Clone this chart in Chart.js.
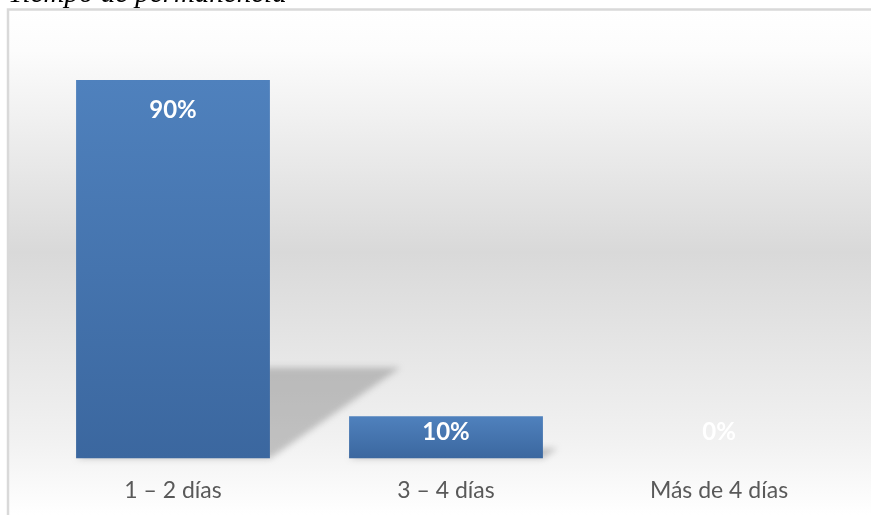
<!DOCTYPE html>
<html>
<head>
<meta charset="utf-8">
<script src="https://cdn.jsdelivr.net/npm/chart.js@4"></script>
<style>
  html, body { margin: 0; padding: 0; background: #fff; overflow: hidden; }
  #wrap { position: relative; width: 871px; height: 515px; }
  #title {
    position: absolute; left: 8px; top: -23px;
    font: italic 29px "Liberation Serif", "DejaVu Serif", serif;
    color: #000; white-space: nowrap; line-height: 30px;
  }
  canvas { position: absolute; left: 0; top: 0; }
</style>
</head>
<body>
<div id="wrap">
  <canvas id="myChart" width="871" height="515"></canvas>
  <div id="title">Tiempo de permanencia</div>
</div>
<script>
var categories = ['1 \u2013 2 días', '3 \u2013 4 días', 'Más de 4 días'];
var values = [90, 10, 0];
var valueLabels = ['90%', '10%', '0%'];

var ctx = document.getElementById('myChart');

// background gradient + frame
var backdrop = {
  id: 'backdrop',
  beforeDraw: function (chart) {
    var c = chart.ctx;
    var g = c.createLinearGradient(0, 10, 0, 515);
    g.addColorStop(0, '#ffffff');
    g.addColorStop(0.08, '#fcfcfc');
    g.addColorStop(0.48, '#d9d9d9');
    g.addColorStop(0.86, '#f2f2f2');
    g.addColorStop(1, '#ffffff');
    c.save();
    c.fillStyle = g;
    c.fillRect(8, 10, 863, 505);
    c.strokeStyle = '#d9d9d9';
    c.lineWidth = 2.5;
    c.beginPath();
    c.moveTo(8, 515);
    c.lineTo(8, 9.5);
    c.lineTo(871, 9.5);
    c.stroke();
    c.restore();
  }
};

// skewed shadow behind each bar
var barShadow = {
  id: 'barShadow',
  beforeDatasetsDraw: function (chart) {
    var c = chart.ctx;
    var meta = chart.getDatasetMeta(0);
    c.save();
    c.filter = 'blur(3px)';
    c.fillStyle = 'rgba(110,110,110,0.38)';
    meta.data.forEach(function (bar) {
      var h = bar.base - bar.y;
      if (h < 1) return;
      var left = bar.x - bar.width / 2, right = bar.x + bar.width / 2;
      var dy = h * 0.24, dx = h * 0.345;
      c.beginPath();
      c.moveTo(left, bar.base);
      c.lineTo(right, bar.base);
      c.lineTo(right + dx, bar.base - dy);
      c.lineTo(left + dx, bar.base - dy);
      c.closePath();
      c.fill();
    });
    c.restore();
  }
};

// white value labels inside the bars
var barLabels = {
  id: 'barLabels',
  afterDatasetsDraw: function (chart) {
    var c = chart.ctx;
    var meta = chart.getDatasetMeta(0);
    c.save();
    c.font = 'bold 24px Lato, "Open Sans", sans-serif';
    c.fillStyle = '#ffffff';
    c.textAlign = 'center';
    c.textBaseline = 'middle';
    meta.data.forEach(function (bar, i) {
      var y = Math.min(bar.y + 30, bar.base - 26);
      c.fillText(valueLabels[i], bar.x, y);
    });
    c.restore();
  }
};

var myChart = new Chart(ctx, {
  type: 'bar',
  data: {
    labels: categories,
    datasets: [{
      data: values,
      backgroundColor: function (context) {
        var chart = context.chart;
        var area = chart.chartArea;
        if (!area || !chart.scales.y) return '#4a7ab5';
        var top = chart.scales.y.getPixelForValue(context.raw);
        var base = chart.scales.y.getPixelForValue(0);
        if (base - top < 1) return '#4a7ab5';
        var g = chart.ctx.createLinearGradient(0, top, 0, base);
        g.addColorStop(0, '#4f81bd');
        g.addColorStop(1, '#3b679f');
        return g;
      },
      borderWidth: 0,
      barPercentage: 0.71,
      categoryPercentage: 1
    }]
  },
  options: {
    responsive: false,
    animation: false,
    layout: { padding: { left: 36.5, right: 15.5, top: 38, bottom: -7 } },
    plugins: {
      legend: { display: false },
      tooltip: { enabled: false },
      title: { display: false }
    },
    scales: {
      x: {
        grid: { display: false, drawTicks: false },
        border: { display: false },
        ticks: {
          color: '#595959',
          padding: 18,
          font: { family: 'Lato, "Open Sans", sans-serif', size: 23 }
        }
      },
      y: {
        display: false,
        min: 0,
        max: 100
      }
    }
  },
  plugins: [backdrop, barShadow, barLabels]
});
</script>
</body>
</html>
